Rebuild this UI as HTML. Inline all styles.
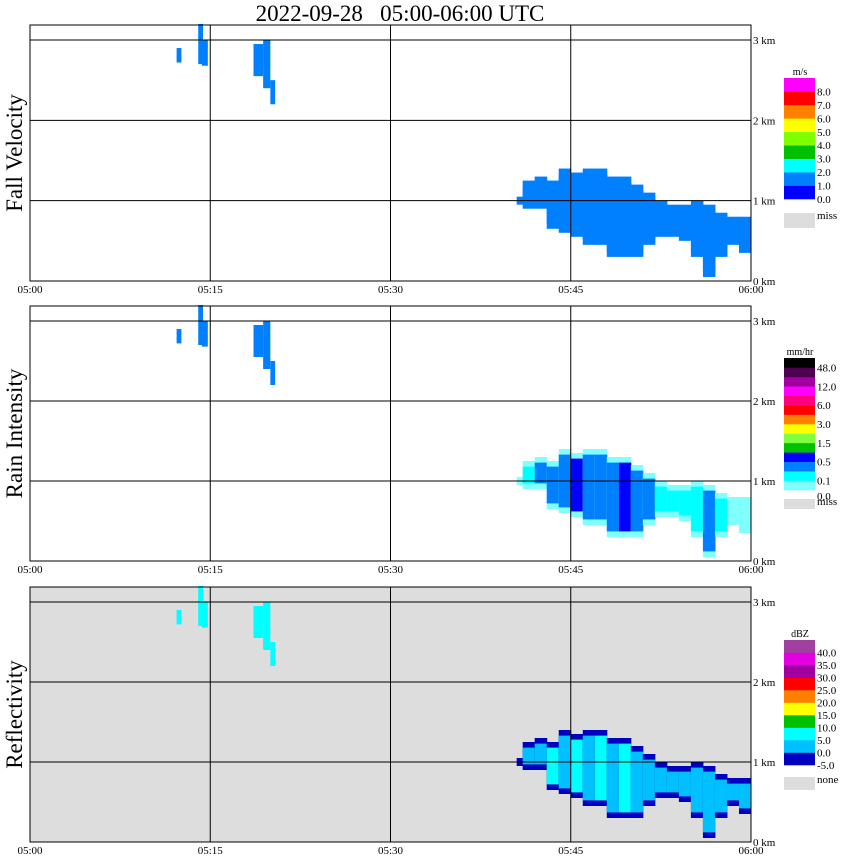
<!DOCTYPE html>
<html><head><meta charset="utf-8"><style>
body{margin:0;background:#fff;width:850px;height:868px;overflow:hidden}
svg{display:block}
text{font-family:"Liberation Serif",serif;fill:#000}
</style></head><body>
<svg id="chart" width="850" height="868" viewBox="0 0 850 868" xmlns="http://www.w3.org/2000/svg">
<text x="400" y="21" font-size="23" text-anchor="middle" style="white-space:pre">2022-09-28   05:00-06:00 UTC</text>
</svg>
<script>
// ---- data ----
const minutes   = [40.5,41,42,43,44,45,46,47,48,49,50,51,52,53,54,55,56,57,58,59];
const echoTop   = [1.05,1.25,1.3,1.25,1.4,1.35,1.4,1.4,1.3,1.3,1.2,1.1,1.0,0.95,0.95,1.0,0.95,0.85,0.8,0.8];
const echoBase  = [0.95,0.9,0.9,0.65,0.6,0.55,0.45,0.45,0.3,0.3,0.3,0.45,0.55,0.55,0.5,0.3,0.05,0.3,0.45,0.35];
const fallCore  = [1.5,1.5,1.5,1.5,1.5,1.5,1.5,1.5,1.5,1.5,1.5,1.5,1.5,1.5,1.5,1.5,1.5,1.5,1.5,1.5];
const rainCore  = [0.05,0.15,0.3,0.3,0.3,0.6,0.3,0.3,0.3,0.6,0.3,0.3,0.15,0.15,0.15,0.15,0.3,0.1,0.05,0.05];
const dbzCore   = [2,3,4,6,4,6,4,6,4,6,4,4,4,3,3,3,4,3,3,2];
const streakStart = [12.2,14.0,14.3,18.6,19.4,20.0];
const streakEnd   = [12.6,14.4,14.8,19.4,20.0,20.4];
const streakTop   = [2.9,3.2,3.0,2.95,3.0,2.5];
const streakBase  = [2.72,2.7,2.68,2.55,2.4,2.2];
const xTicks = ["05:00","05:15","05:30","05:45","06:00"];
const xTickMin = [0,15,30,45,60];
const kmTicks = [0,1,2,3];
const fvLabels = ["0.0","1.0","2.0","3.0","4.0","5.0","6.0","7.0","8.0"];
const rainLabels = ["0.0","0.1","0.5","1.5","3.0","6.0","12.0","48.0"];
const dbzLabels = ["-5.0","0.0","5.0","10.0","15.0","20.0","25.0","30.0","35.0","40.0"];
// ---- styles ----
const fvColors=["#0000ff","#0080ff","#00ffff","#00c000","#80ff00","#ffff00","#ff8000","#ff0000","#ff00ff"];
const fvThr=[0,1,2,3,4,5,6,7,8];
const rainColors=["#80ffff","#00ffff","#0080ff","#0000ff","#00c000","#80ff40","#ffff00","#ff8000","#ff0000","#ff0080","#ff00ff","#a000a0","#500050","#000000"];
const rainThr=[0,0.1,0.25,0.5,1,1.5,2,3,4,6,8,12,24,48];
const dbzColors=["#0000c0","#00c0ff","#00ffff","#00c000","#ffff00","#ff8000","#ff0000","#a000a0","#e000e0","#a040a0"];
const dbzThr=[-5,0,5,10,15,20,25,30,35,40];
function cls(v,thr){let k=0;for(let i=0;i<thr.length;i++)if(v>=thr[i])k=i;return k;}
const NS="http://www.w3.org/2000/svg";
const svg=document.getElementById('chart');
function el(t,a,p){const e=document.createElementNS(NS,t);for(const k in a)e.setAttribute(k,a[k]);(p||svg).appendChild(e);return e;}
const X0=30,X1=751;
function xS(m){return X0+(X1-X0)*m/60;}
const panels=[
 {top:25,bot:281,title:"Fall Velocity",name:"fall-velocity",bg:"#fff",colors:fvColors,thr:fvThr,core:fallCore,edge:1.5,labels:fvLabels,unit:"m/s",barTop:78,barBot:199,miss:"miss",missY:213,missH:15,labelAt:i=>i},
 {top:306,bot:561,title:"Rain Intensity",name:"rain-intensity",bg:"#fff",colors:rainColors,thr:rainThr,core:rainCore,edge:0.02,labels:rainLabels,unit:"mm/hr",barTop:358,barBot:490,miss:"miss",missY:499,missH:10,labelAt:null},
 {top:587,bot:842,title:"Reflectivity",name:"reflectivity",bg:"#dddddd",colors:dbzColors,thr:dbzThr,core:dbzCore,edge:-2,labels:dbzLabels,unit:"dBZ",barTop:640,barBot:765,miss:"none",missY:777,missH:13,labelAt:i=>i}
];
panels.forEach(p=>{
 const g=el('g',{});
 
 
 const kmPx=(p.bot-p.top-15)/3;
 const yS=km=>p.bot-km*kmPx;
 el('rect',{x:X0,y:p.top,width:X1-X0,height:p.bot-p.top,fill:p.bg},g);
 minutes.forEach((m,i)=>{
  const x0=xS(m),x1=xS(m===40.5?41:m+1);
  const ec=p.colors[cls(p.edge,p.thr)],cc=p.colors[cls(p.core[i],p.thr)];
  const r=el('rect',{x:x0,y:yS(echoTop[i]),width:x1-x0+0.5,height:yS(echoBase[i])-yS(echoTop[i]),fill:ec},g);
  
  
  const t=echoTop[i]-0.07,b=echoBase[i]+0.07;
  if(t>b){const c=el('rect',{x:x0,y:yS(t),width:x1-x0+0.5,height:yS(b)-yS(t),fill:cc},g);
   
   }
 });
 streakStart.forEach((s,i)=>{
  const sc=p.name==="reflectivity"?"#00ffff":"#0080ff";
  const r=el('rect',{x:xS(s),y:yS(streakTop[i]),width:xS(streakEnd[i])-xS(s),height:yS(streakBase[i])-yS(streakTop[i]),fill:sc},g);
  
  
 });
 kmTicks.forEach(k=>{
  if(k>0)el('line',{x1:X0,x2:X1,y1:yS(k),y2:yS(k),stroke:"#000"},g);
  const tl=el('text',{x:753,y:yS(k)+4,'font-size':11},g);tl.textContent=k+" km";
  
  
 });
 xTickMin.forEach((m,i)=>{
  if(m>0&&m<60)el('line',{x1:xS(m),x2:xS(m),y1:p.top,y2:p.bot,stroke:"#000"},g);
  const tl=el('text',{x:xS(m),y:p.bot+12,'font-size':11,'text-anchor':'middle'},g);tl.textContent=xTicks[i];
  
  
 });
 el('rect',{x:X0,y:p.top,width:X1-X0,height:p.bot-p.top,fill:"none",stroke:"#000"},g);
 const yt=el('text',{x:0,y:0,'font-size':23,'text-anchor':'middle',transform:`translate(22,${(p.top+p.bot)/2}) rotate(-90)`},g);
 yt.textContent=p.title;
 
 
 const n=p.colors.length,h=(p.barBot-p.barTop)/n;
 const ut=el('text',{x:800,y:p.barTop-3,'font-size':10,'text-anchor':'middle'},g);ut.textContent=p.unit;
 
 
 p.colors.forEach((c,i)=>{
  const r=el('rect',{x:784,y:p.barBot-(i+1)*h,width:31,height:h+0.3,fill:c},g);
  
  
 });
 p.labels.forEach((l,i)=>{
  let y;
  if(p.labelAt)y=p.barBot-i*h+4;
  else{const pos=[0,1,3,5,7,9,11,13];y=p.barBot-pos[i]*h+4;if(i===0)y+=6;}
  const t=el('text',{x:817,y:y,'font-size':11},g);t.textContent=l;
  
  
 });
 el('rect',{x:784,y:p.missY,width:31,height:p.missH,fill:"#dddddd"},g);
 const mt=el('text',{x:817,y:p.missY+6,'font-size':11},g);mt.textContent=p.miss;
 
 
});
</script>
</body></html>
